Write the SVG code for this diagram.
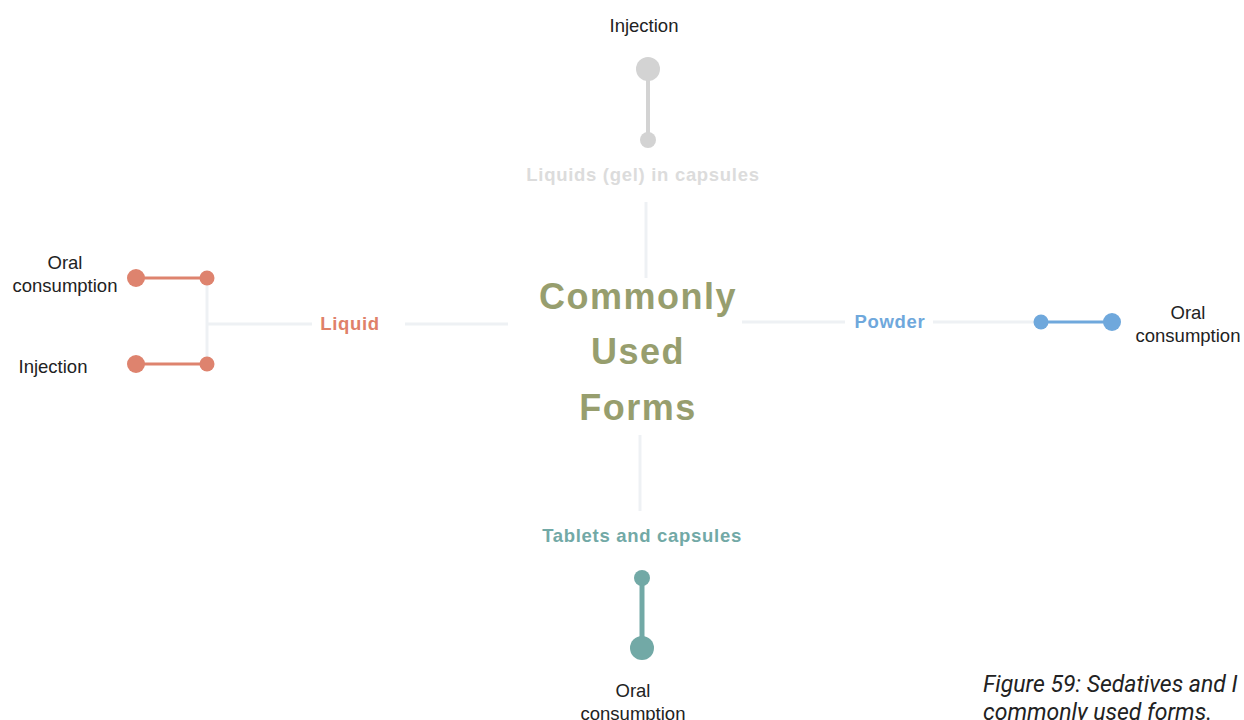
<svg xmlns="http://www.w3.org/2000/svg" width="1244" height="720" viewBox="0 0 1244 720">
<style>
.conn{stroke:#eef1f4;stroke-width:3;fill:none}
.lbl{font-family:"Liberation Sans",Arial,sans-serif;font-size:18.5px;fill:#222;text-anchor:middle}
.cat{font-family:"Liberation Sans",Arial,sans-serif;font-weight:bold;font-size:18.5px;letter-spacing:0.7px;text-anchor:middle}
.hub{font-family:"Liberation Sans",Arial,sans-serif;font-weight:bold;font-size:36px;letter-spacing:1.5px;fill:#979e6e;text-anchor:middle}
</style>
<rect width="1244" height="720" fill="#ffffff"/>
<g id="connectors">
<line class="conn" x1="646" y1="202" x2="646" y2="278"/>
<line class="conn" x1="208" y1="324" x2="312" y2="324"/>
<line class="conn" x1="405" y1="324" x2="508" y2="324"/>
<line class="conn" x1="207" y1="278" x2="207" y2="364"/>
<line class="conn" x1="742" y1="322" x2="845" y2="322"/>
<line class="conn" x1="933" y1="322" x2="1040" y2="322"/>
<line class="conn" x1="640" y1="435" x2="640" y2="511"/>
</g>
<g id="hub">
<text class="hub" x="638" y="309">Commonly</text>
<text class="hub" x="638" y="364">Used</text>
<text class="hub" x="638" y="420">Forms</text>
</g>
<g id="top">
<text class="cat" x="643" y="181" fill="#dcdcdc">Liquids (gel) in capsules</text>
<line x1="648" y1="69" x2="648" y2="140" stroke="#d3d3d3" stroke-width="4"/>
<circle cx="648" cy="69" r="12" fill="#d3d3d3"/>
<circle cx="648" cy="140" r="8" fill="#d3d3d3"/>
<text class="lbl" x="644" y="32">Injection</text>
</g>
<g id="left">
<text class="cat" x="350" y="330" fill="#df8169">Liquid</text>
<line x1="136" y1="278" x2="207" y2="278" stroke="#de836e" stroke-width="3"/>
<line x1="136" y1="364" x2="207" y2="364" stroke="#de836e" stroke-width="3"/>
<circle cx="136" cy="278" r="9" fill="#de836e"/>
<circle cx="207" cy="278" r="7.5" fill="#de836e"/>
<circle cx="136" cy="364" r="9" fill="#de836e"/>
<circle cx="207" cy="364" r="7.5" fill="#de836e"/>
<text class="lbl" x="65" y="269">Oral</text>
<text class="lbl" x="65" y="292">consumption</text>
<text class="lbl" x="53" y="373">Injection</text>
</g>
<g id="right">
<text class="cat" x="890" y="328" fill="#6fa8dc">Powder</text>
<line x1="1041" y1="322" x2="1112" y2="322" stroke="#6fa8dc" stroke-width="3"/>
<circle cx="1041" cy="322" r="7.5" fill="#6fa8dc"/>
<circle cx="1112" cy="322" r="9" fill="#6fa8dc"/>
<text class="lbl" x="1188" y="319">Oral</text>
<text class="lbl" x="1188" y="342">consumption</text>
</g>
<g id="bottom">
<text class="cat" x="642" y="542" fill="#72a9a6">Tablets and capsules</text>
<line x1="642" y1="578" x2="642" y2="648" stroke="#72a9a6" stroke-width="5"/>
<circle cx="642" cy="578" r="8" fill="#72a9a6"/>
<circle cx="642" cy="648" r="12" fill="#72a9a6"/>
<text class="lbl" x="633" y="697">Oral</text>
<text class="lbl" x="633" y="720">consumption</text>
</g>
<g id="caption" font-family="Roboto,'Liberation Sans',sans-serif" font-style="italic" font-size="23" fill="#222">
<text x="983" y="692">Figure 59: Sedatives and I</text>
<text x="983" y="720">commonly used forms.</text>
</g>
</svg>
